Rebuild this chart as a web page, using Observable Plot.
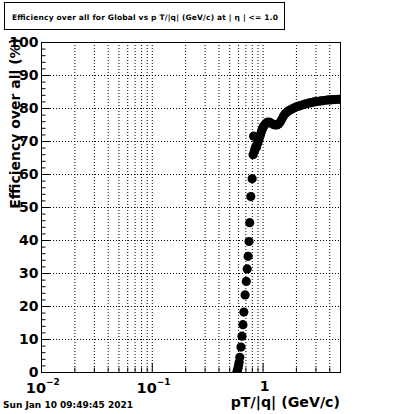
<!DOCTYPE html>
<html><head><meta charset="utf-8">
<script src="https://cdn.jsdelivr.net/npm/d3@7"></script>
<script src="https://cdn.jsdelivr.net/npm/@observablehq/plot@0.6"></script>
<style>
html,body{margin:0;padding:0;background:#fff;}
svg{display:block}
</style></head><body><div id="chart"></div>
<script>
// ---- data ----
const pt = [0.580,0.587,0.594,0.601,0.608,0.617,0.632,0.645,0.658,0.671,0.688,0.706,0.719,0.733,0.747,0.758,0.775,0.797,
  0.812,0.822,0.834,0.846,0.858,0.870,0.882,0.895,0.908,0.922,0.936,0.951,0.967,0.984,1.00,1.02,1.05,1.08,1.11,1.15,1.19,
  1.23,1.28,1.33,1.38,1.43,1.48,1.53,1.58,1.64,1.70,1.77,1.84,1.92,2.00,2.09,2.18,2.28,2.39,2.50,2.62,2.75,2.88,3.02,3.17,
  3.33,3.50,3.68,3.87,4.07,4.28,4.50,4.73,4.92];
const eff = [0.0,0.6,1.3,2.2,3.1,4.6,7.7,11.0,14.5,18.3,23.5,27.6,31.4,35.2,39.7,45.4,53.3,58.7,
  66.0,71.6,67.0,67.8,68.4,68.2,69.0,69.6,70.2,70.8,71.5,72.3,73.0,73.7,74.3,74.8,75.3,75.7,75.9,75.8,75.5,
  75.2,75.0,75.0,75.3,75.9,76.8,77.7,78.4,78.9,79.3,79.6,79.9,80.2,80.5,80.7,80.9,81.1,81.3,81.5,81.7,81.8,82.0,82.1,82.2,
  82.3,82.4,82.5,82.6,82.6,82.7,82.7,82.8,82.8];

const xMajorTicks = [0.01, 0.1, 1];
const xTickBase = ["10", "10", "1"];
const xTickExp = ["\u22122", "\u22121", ""];
const xMinorTicks = [0.02,0.03,0.04,0.05,0.06,0.07,0.08,0.09,0.2,0.3,0.4,0.5,0.6,0.7,0.8,0.9,2,3,4];
const yMajorTicks = [0,10,20,30,40,50,60,70,80,90,100];
const yTickLabels = ["0","10","20","30","40","50","60","70","80","90","100"];
const yMinorTicks = [2,4,6,8,12,14,16,18,22,24,26,28,32,34,36,38,42,44,46,48,52,54,56,58,62,64,66,68,72,74,76,78,82,84,86,88,92,94,96,98];

const titleText = "Efficiency over all for Global vs p T/|q| (GeV/c) at | \u03b7 | <= 1.0";
const xTitle = "pT/|q| (GeV/c)";
const yTitle = "Efficiency over all (%)";
const dateText = "Sun Jan 10 09:49:45 2021";

// ---- chart ----
const points = pt.map((x, i) => ({x, y: eff[i]}));
const yLabelOf = new Map(yMajorTicks.map((v, i) => [v, yTickLabels[i]]));
const xLab = xMajorTicks.map((v, i) => ({v, base: xTickBase[i], exp: xTickExp[i]}));
const xLabPow = xLab.filter(d => d.exp !== "");
const xLabPlain = xLab.filter(d => d.exp === "");
const FONT = "DejaVu Sans";
const dotted = {stroke: "black", strokeOpacity: 1, strokeWidth: 1, strokeDasharray: "1,2"};

const chart = Plot.plot({
  width: 400, height: 414,
  marginLeft: 41, marginRight: 60, marginTop: 42, marginBottom: 42,
  style: {fontFamily: FONT, background: "white", color: "black"},
  x: {type: "log", domain: [0.01, 5], label: null},
  y: {domain: [0, 100], label: null},
  marks: [
    Plot.gridX(xMinorTicks.concat(xMajorTicks.slice(1)), dotted),
    Plot.gridY(yMajorTicks.slice(1, -1), dotted),
    Plot.axisX(xMajorTicks, {anchor: "bottom", tickSize: 9, dy: -9, fill: "none", label: null}),
    Plot.axisX(xMinorTicks, {anchor: "bottom", tickSize: 4.5, dy: -4.5, fill: "none", label: null}),
    Plot.axisY(yMajorTicks, {anchor: "left", tickSize: 9, dx: 9, fill: "none", label: null}),
    Plot.axisY(yMinorTicks, {anchor: "left", tickSize: 4.5, dx: 4.5, fill: "none", label: null}),
    Plot.axisY(yMajorTicks, {anchor: "left", tickSize: 0, tickPadding: 3, fontSize: 14, fontWeight: "bold",
      tickFormat: d => yLabelOf.get(d), label: null}),
    Plot.text(xLabPow, {x: "v", text: "base", frameAnchor: "bottom", lineAnchor: "top",
      fontSize: 14.5, fontWeight: "bold", fill: "black", textAnchor: "end", dx: 4.5, dy: 10}),
    Plot.text(xLabPow, {x: "v", text: "exp", frameAnchor: "bottom", lineAnchor: "top",
      fontSize: 9, fontWeight: "bold", fill: "black", textAnchor: "start", dx: 4.5, dy: 6}),
    Plot.text(xLabPlain, {x: "v", text: "base", frameAnchor: "bottom", lineAnchor: "top",
      fontSize: 14, fontWeight: "bold", fill: "black", textAnchor: "middle", dx: 1.5, dy: 8.5}),
    Plot.dot(points, {x: "x", y: "y", r: 4.6, fill: "black", stroke: "none", clip: true}),
    Plot.frame({stroke: "black"})
  ]
});

const svg = d3.select(chart);
svg.append("rect").attr("x", 4.5).attr("y", 2.5).attr("width", 280).attr("height", 27)
  .attr("fill", "white").attr("stroke", "black");
svg.append("text").attr("x", 145).attr("y", 20).attr("text-anchor", "middle")
  .attr("font-family", FONT).attr("font-weight", "bold").attr("font-size", 7.5)
  .attr("textLength", 266).attr("lengthAdjust", "spacing").text(titleText);
svg.append("text").attr("transform", "translate(20,38) rotate(-90)").attr("text-anchor", "end")
  .attr("font-family", FONT).attr("font-weight", "bold").attr("font-size", 14).text(yTitle);
svg.append("text").attr("x", 340).attr("y", 407).attr("text-anchor", "end")
  .attr("font-family", FONT).attr("font-weight", "bold").attr("font-size", 14.2).text(xTitle);
svg.append("text").attr("x", 3).attr("y", 408).attr("text-anchor", "start")
  .attr("font-family", FONT).attr("font-weight", "bold").attr("font-size", 9).text(dateText);

document.getElementById("chart").appendChild(chart);
</script></body></html>
